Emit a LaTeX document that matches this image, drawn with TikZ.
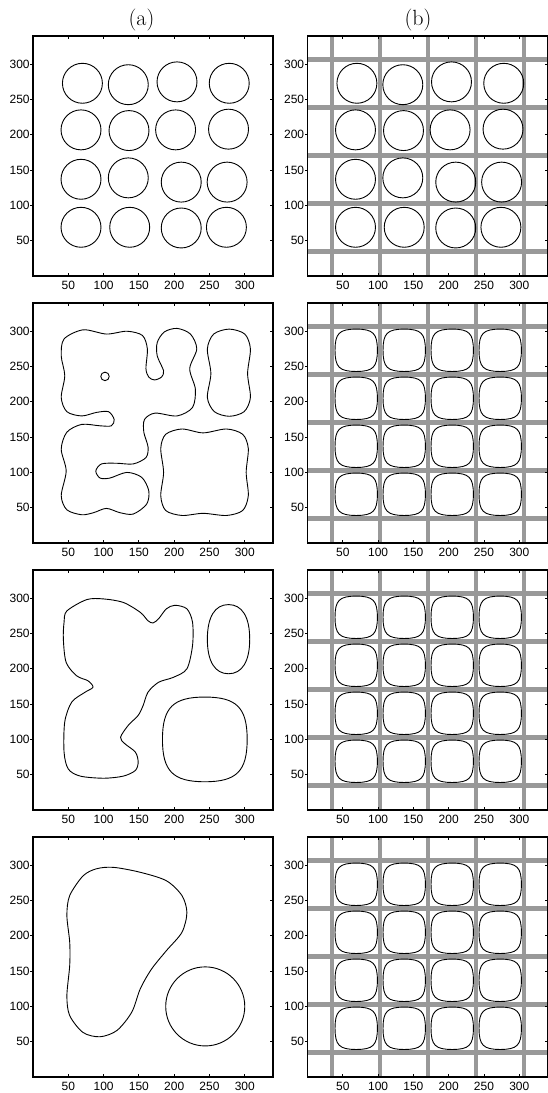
\documentclass[tikz,border=0pt]{standalone}
\usepackage{fontspec}
\newfontfamily\axisfont{Liberation Sans}
\usepackage{tikz}
\definecolor{gridgray}{HTML}{999999}

\begin{document}
\begin{tikzpicture}[x=1pt, y=1pt, line cap=butt,
    panel/.style={x=0.70588pt, y=0.70588pt},
    axisbox/.style={draw=black, line width=1.1pt},
    axistick/.style={line width=0.8pt},
    ticklabel/.style={font=\axisfont\fontsize{12}{13}\selectfont, inner sep=0pt},
    paneltitle/.style={font=\fontsize{22}{24}\selectfont, inner sep=0pt, anchor=base},
    contour/.style={line width=0.9pt, black},
    gridline/.style={line width=4.5pt, gridgray}]

  \useasboundingbox (0,0) rectangle (548,1093);

  % ---- column titles --------------------------------------------------------
  \node[paneltitle] (titlea) at (141.5,1067) {(a)};
  \node[paneltitle] (titleb) at (418,1067) {(b)};

  % ---- grey partition lines in every (b) panel ------------------------------
  \foreach \Yb in {817,550,283,16}{
    \begin{scope}[shift={(307.5pt,\Yb pt)}, panel]
      \foreach \g in {35,103,...,307}{
        \draw[gridline] (\g,0) -- (\g,340);
        \draw[gridline] (0,\g) -- (340,\g);}
    \end{scope}}

  % ---- row 1: sixteen initial circles, same in (a) and (b) ------------------
  \foreach \X in {33,307.5}{
    \begin{scope}[shift={(\X pt,817pt)}, panel]
      \foreach \cx/\cy in {70/273, 135/271, 204/275, 278/273,
                           68/207, 136/206, 202/207, 277/208,
                           68/137, 135/139, 210/133, 275/133,
                           68/69,  137/69,  210/68,  274/69}{
        \draw[contour] (\cx,\cy) circle (28.3);}
    \end{scope}}

  % ---- rows 2-4 (b): one rounded square per cell ----------------------------
  \foreach \Yb in {550,283,16}{
    \begin{scope}[shift={(307.5pt,\Yb pt)}, panel]
      \foreach \cx in {69,137,205,273}{
        \foreach \cy in {69,137,205,273}{
          \draw[contour] (\cx+30,\cy)
            .. controls (\cx+30,\cy+24) and (\cx+24,\cy+30) .. (\cx,\cy+30)
            .. controls (\cx-24,\cy+30) and (\cx-30,\cy+24) .. (\cx-30,\cy)
            .. controls (\cx-30,\cy-24) and (\cx-24,\cy-30) .. (\cx,\cy-30)
            .. controls (\cx+24,\cy-30) and (\cx+30,\cy-24) .. cycle;}}
    \end{scope}}

  % ---- row 2 (a): merged wavy regions ---------------------------------------
  \begin{scope}[shift={(33pt,550pt)}, panel]
    \draw[contour] plot[smooth cycle] coordinates {
      (71,302) (104,296) (133,300) (155,294) (162,275) (160,247) (164,235)
      (172,231) (182,235) (185,244) (176,265) (176,284) (186,299) (204,304)
      (223,296) (232,275) (222,247) (230,218) (226,192) (204,180) (173,184)
      (158,175) (157,157) (163,136) (160,121) (142,112) (118,113) (97,112)
      (89,102) (95,92) (109,92) (133,100) (154,93) (164,74) (161,55) (142,41)
      (123,43) (104,49) (86,43) (69,40) (48,47) (40,67) (47,102) (40,133)
      (48,157) (69,168) (95,166) (111,166) (115,175) (107,186) (90,185)
      (69,180) (48,186) (40,206) (45,237) (40,265) (44,289)};
    \draw[contour] (102,236) circle (6);
    \draw[contour] plot[smooth cycle] coordinates {
      (278,303) (300,296) (308,275) (304,240) (308,206) (299,186) (278,179.5)
      (257,186) (247,206) (252,240) (247,275) (256,296)};
    \draw[contour] plot[smooth cycle] coordinates {
      (211,161.5) (241,156) (274,161.5) (297,154) (305,134) (302,100)
      (305,67) (297,46) (274,39) (241,42) (211,39) (188,46) (181,67)
      (185,100) (181,134) (188,154)};
  \end{scope}

  % ---- row 3 (a) -------------------------------------------------------------
  \begin{scope}[shift={(33pt,283pt)}, panel]
    \draw[contour] plot[smooth cycle] coordinates {
      (48,282) (76,298) (100,299) (128,294) (152,280) (163,268) (170,265)
      (178,271) (189,285) (201,290) (218,285) (226,266) (226,233) (218,200)
      (199,188) (178,181) (163,167) (156,148) (149,134) (135,120) (124,103)
      (130,94) (145,82) (149,68) (145,56) (128,48) (100,45) (67,48) (50,58)
      (44,82) (45,125) (55,153) (74,167) (85,174) (78,183) (62,190) (47,209)
      (43,242) (44,266)};
    \draw[contour] (307,242)
      .. controls (307,274) and (296,291) .. (277,291)
      .. controls (258,291) and (247,274) .. (247,242)
      .. controls (247,210) and (258,193) .. (277,193)
      .. controls (296,193) and (307,210) .. cycle;
    \draw[contour] (303.4,100)
      .. controls (303.4,145) and (288.4,160) .. (243.4,160)
      .. controls (198.4,160) and (183.4,145) .. (183.4,100)
      .. controls (183.4,55) and (198.4,40) .. (243.4,40)
      .. controls (288.4,40) and (303.4,55) .. cycle;
  \end{scope}

  % ---- row 4 (a) -------------------------------------------------------------
  \begin{scope}[shift={(33pt,16pt)}, panel]
    \draw[contour] plot[smooth cycle] coordinates {
      (114,297) (152,290) (189,278) (211,257) (218,233) (211,205) (189,179)
      (168,153) (152,125) (140,92) (119,66) (95,57) (71,63) (52,87) (48,115)
      (52,158) (52,191) (48,229) (52,257) (71,285) (90,295)};
    \draw[contour] (244,100) circle (56);
  \end{scope}

  % ---- axes: box, ticks and tick labels of all eight panels -----------------
  \foreach \X/\Yb/\p in {33/817/1, 307.5/817/2, 33/550/3, 307.5/550/4,
                         33/283/5, 307.5/283/6, 33/16/7, 307.5/16/8}{
    \begin{scope}[shift={(\X pt,\Yb pt)}, panel]
      \draw[axisbox] (0,0) rectangle (340,340);
      \foreach \t in {50,100,...,300}{
        \draw[axistick] (\t,0) -- (\t,4.2);
        \draw[axistick] (\t,340) -- (\t,335.8);
        \draw[axistick] (0,\t) -- (-4.2,\t);
        \draw[axistick] (340,\t) -- (335.8,\t);
        \node[ticklabel, anchor=north] (xt\p-\t) at (\t,-7.5) {\t};
        \node[ticklabel, anchor=east] (yt\p-\t) at (-4.5,\t) {\t};}
    \end{scope}}
\end{tikzpicture}
\end{document}
